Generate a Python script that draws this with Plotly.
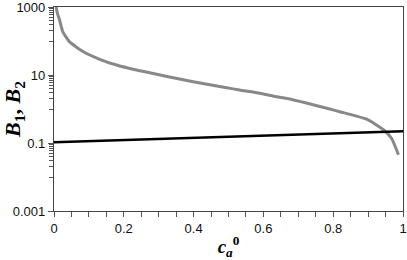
import plotly.graph_objects as go

# Data
c_b1 = [0.0, 0.2, 0.4, 0.6, 0.8, 1.0]
b1 = [0.105, 0.122, 0.141, 0.163, 0.190, 0.220]

c_b2 = [0.006, 0.010, 0.016, 0.025, 0.044, 0.083, 0.131, 0.179, 0.226, 0.274,
        0.327, 0.399, 0.495, 0.532, 0.59, 0.627, 0.672, 0.723, 0.79, 0.819,
        0.896, 0.943, 0.967, 0.987]
b2 = [1000, 640, 414, 190, 96, 49, 29, 19.6, 14.8, 11.7,
      8.9, 6.3, 4.2, 3.62, 2.9, 2.4, 2.0, 1.5, 1.0, 0.83,
      0.5, 0.25, 0.138, 0.045]

y_tickvals = [0.001, 0.1, 10, 1000]
y_ticktext = ["0.001", "0.1", "10", "1000"]
y_minor = [k * 10 ** e for e in (-2, 0, 2) for k in range(1, 10)]
x_tickvals = [0, 0.2, 0.4, 0.6, 0.8, 1]
x_ticktext = ["0", "0.2", "0.4", "0.6", "0.8", "1"]

fig = go.Figure()
fig.add_trace(go.Scatter(x=c_b2, y=b2, mode="lines",
                         line=dict(color="#888888", width=3, shape="spline", smoothing=0.5),
                         showlegend=False, hoverinfo="skip"))
fig.add_trace(go.Scatter(x=c_b1, y=b1, mode="lines",
                         line=dict(color="#000000", width=2.5),
                         showlegend=False, hoverinfo="skip"))

tickfont = dict(family="Liberation Sans, Arial, sans-serif", size=13, color="#111111")

fig.update_layout(
    width=407, height=260,
    margin=dict(l=54, r=4, t=7, b=49),
    paper_bgcolor="white", plot_bgcolor="white",
    xaxis=dict(
        range=[0, 1], tickmode="array", tickvals=x_tickvals, ticktext=x_ticktext,
        ticks="outside", ticklen=5, tickcolor="#555555", tickwidth=1,
        minor=dict(dtick=0.05, tick0=0, ticks="outside", ticklen=5, tickcolor="#555555"),
        showgrid=False, zeroline=False, automargin=False, ticklabeloverflow="allow",
        showline=True, linecolor="#444444", linewidth=1.2, mirror=True,
        tickfont=tickfont,
        title=dict(text="<b><i>c</i><sub><i>a</i></sub><sup>0</sup></b>",
                   font=dict(family="Liberation Serif, Times New Roman, serif", size=19, color="#000000"),
                   standoff=6),
    ),
    yaxis=dict(
        type="log", range=[-3, 3], tickmode="array", tickvals=y_tickvals, ticktext=y_ticktext,
        ticks="outside", ticklen=5, tickcolor="#555555", tickwidth=1,
        minor=dict(tickmode="array", tickvals=y_minor, ticks="outside", ticklen=4, tickcolor="#555555"),
        showgrid=False, zeroline=False, automargin=False, ticklabeloverflow="allow",
        showline=True, linecolor="#444444", linewidth=1.2, mirror=True,
        tickfont=tickfont,
        title=dict(text="<b><i>B</i><sub>1</sub>, <i>B</i><sub>2</sub></b>",
                   font=dict(family="Liberation Serif, Times New Roman, serif", size=22, color="#000000"),
                   standoff=2),
    ),
)

fig.write_html("out.html", config={"displayModeBar": False},
               post_script="document.body.style.margin='0';document.body.style.padding='0';")
